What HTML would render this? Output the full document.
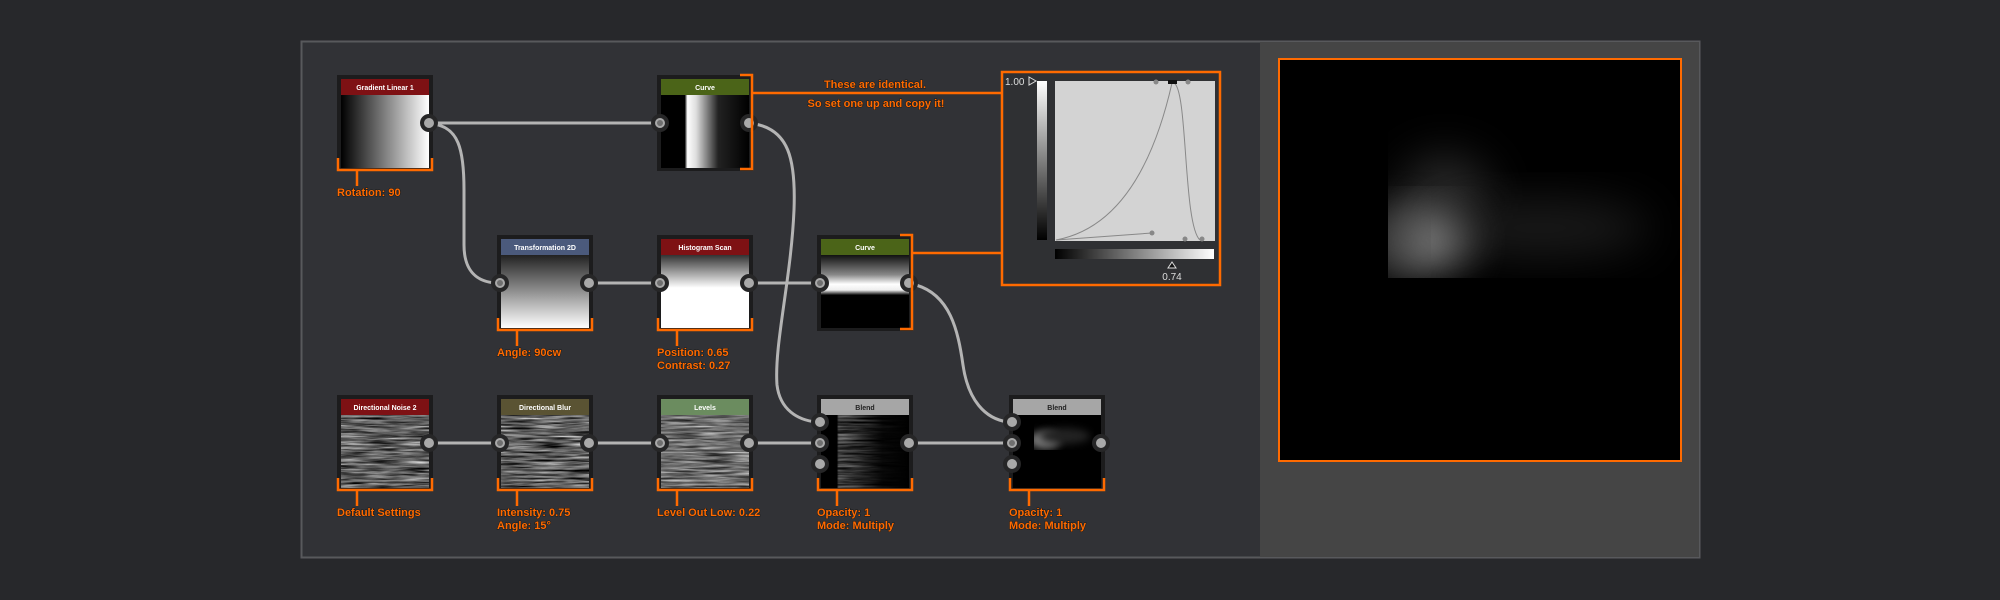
<!DOCTYPE html>
<html><head><meta charset="utf-8"><style>
html,body{margin:0;padding:0;background:#27282b;width:2000px;height:600px;overflow:hidden}
svg{display:block}
filter{color-interpolation-filters:sRGB}
.lb{font-family:"Liberation Sans",sans-serif;font-weight:bold;font-size:11px;fill:#ff6a00}
.hd{font-family:"Liberation Sans",sans-serif;font-weight:bold;font-size:7px;fill:#fff;text-anchor:middle}
</style></head><body>
<svg width="2000" height="600" viewBox="0 0 2000 600" xmlns="http://www.w3.org/2000/svg">
<defs>
<filter id="nz" x="0" y="0" width="100%" height="100%" color-interpolation-filters="sRGB">
<feTurbulence type="fractalNoise" baseFrequency="0.03 0.5" numOctaves="3" seed="4"/>
<feColorMatrix type="matrix" values="0.33 0.33 0.33 0 0  0.33 0.33 0.33 0 0  0.33 0.33 0.33 0 0  0 0 0 0 1"/>
<feComponentTransfer><feFuncR type="linear" slope="2.0" intercept="-0.62"/><feFuncG type="linear" slope="2.0" intercept="-0.62"/><feFuncB type="linear" slope="2.0" intercept="-0.62"/></feComponentTransfer>
</filter>
<filter id="bl" x="-50%" y="-50%" width="200%" height="200%" color-interpolation-filters="sRGB"><feGaussianBlur stdDeviation="22"/></filter>
<filter id="bl2" x="-50%" y="-50%" width="200%" height="200%" color-interpolation-filters="sRGB"><feGaussianBlur stdDeviation="4"/></filter>
<linearGradient id="gH" x1="0" x2="1"><stop offset="0" stop-color="#000"/><stop offset="1" stop-color="#fff"/></linearGradient>
<linearGradient id="gV" x1="0" x2="0" y1="0" y2="1"><stop offset="0" stop-color="#222"/><stop offset="1" stop-color="#fff"/></linearGradient>
<linearGradient id="gVr" x1="0" x2="0" y1="0" y2="1"><stop offset="0" stop-color="#fff"/><stop offset="1" stop-color="#000"/></linearGradient>
<linearGradient id="gHist" x1="0" x2="0" y1="0" y2="1"><stop offset="0" stop-color="#333"/><stop offset="0.45" stop-color="#fff"/><stop offset="1" stop-color="#fff"/></linearGradient>
<linearGradient id="gC1" x1="0" x2="1"><stop offset="0" stop-color="#000"/><stop offset="0.27" stop-color="#000"/><stop offset="0.3" stop-color="#fff"/><stop offset="0.4" stop-color="#ddd"/><stop offset="0.65" stop-color="#222"/><stop offset="1" stop-color="#000"/></linearGradient>
<linearGradient id="gC2" x1="0" x2="0" y1="0" y2="1"><stop offset="0" stop-color="#111"/><stop offset="0.27" stop-color="#888"/><stop offset="0.4" stop-color="#fff"/><stop offset="0.48" stop-color="#eee"/><stop offset="0.55" stop-color="#000"/><stop offset="1" stop-color="#000"/></linearGradient>
<linearGradient id="gB1" x1="0" x2="1"><stop offset="0" stop-color="#000" stop-opacity="1"/><stop offset="0.18" stop-color="#000" stop-opacity="1"/><stop offset="0.2" stop-color="#000" stop-opacity="0.35"/><stop offset="0.4" stop-color="#000" stop-opacity="0.55"/><stop offset="0.7" stop-color="#000" stop-opacity="0.92"/><stop offset="1" stop-color="#000" stop-opacity="1"/></linearGradient>
<clipPath id="pc"><rect x="1388" y="70" width="300" height="208"/></clipPath>
<clipPath id="pc2"><rect x="1034" y="420" width="60" height="30"/></clipPath>
</defs>

<rect x="301.5" y="41.5" width="1398" height="516" fill="#313236" stroke="#58595c" stroke-width="2"/>
<rect x="1260" y="42" width="439" height="515" fill="#454545"/>

<g fill="none" stroke="#b4b4b4" stroke-width="3">
<path d="M428,123 L660,123"/>
<path d="M434,124 C458,128 464,148 464,190 L464,245 C464,272 478,282 496,283"/>
<path d="M589,283 L660,283"/>
<path d="M749,283 L820,283"/>
<path d="M755,124 C788,130 796,158 794,210 C791,280 774,345 777,385 C780,410 798,420 816,422"/>
<path d="M916,285 C950,295 958,330 963,365 C968,400 985,419 1008,422"/>
<path d="M428,443 L500,443"/>
<path d="M589,443 L660,443"/>
<path d="M749,443 L820,443"/>
<path d="M909,443 L1012,443"/>
</g>

<rect x="337" y="75" width="96" height="96" fill="#1c1c1d"/>
<rect x="341" y="95" width="88" height="73" fill="url(#gH)"/>
<rect x="341" y="79" width="88" height="16" fill="#7e1114"/>
<text class="hd" x="385" y="90">Gradient Linear 1</text>
<rect x="657" y="75" width="96" height="96" fill="#1c1c1d"/>
<rect x="661" y="95" width="88" height="73" fill="url(#gC1)"/>
<rect x="661" y="79" width="88" height="16" fill="#4b6418"/>
<text class="hd" x="705" y="90">Curve</text>
<rect x="497" y="235" width="96" height="96" fill="#1c1c1d"/>
<rect x="501" y="255" width="88" height="73" fill="url(#gV)"/>
<rect x="501" y="239" width="88" height="16" fill="#4b5a7c"/>
<text class="hd" x="545" y="250">Transformation 2D</text>
<rect x="657" y="235" width="96" height="96" fill="#1c1c1d"/>
<rect x="661" y="255" width="88" height="73" fill="url(#gHist)"/>
<rect x="661" y="239" width="88" height="16" fill="#7e1114"/>
<text class="hd" x="705" y="250">Histogram Scan</text>
<rect x="817" y="235" width="96" height="96" fill="#1c1c1d"/>
<rect x="821" y="255" width="88" height="73" fill="url(#gC2)"/>
<rect x="821" y="239" width="88" height="16" fill="#4b6418"/>
<text class="hd" x="865" y="250">Curve</text>
<rect x="337" y="395" width="96" height="96" fill="#1c1c1d"/>
<rect x="341" y="415" width="88" height="73" fill="#777" filter="url(#nz)"/>
<rect x="341" y="399" width="88" height="16" fill="#7e1114"/>
<text class="hd" x="385" y="410">Directional Noise 2</text>
<rect x="497" y="395" width="96" height="96" fill="#1c1c1d"/>
<rect x="501" y="415" width="88" height="73" fill="#777" filter="url(#nz)"/>
<rect x="501" y="399" width="88" height="16" fill="#5a5333"/>
<text class="hd" x="545" y="410">Directional Blur</text>
<rect x="657" y="395" width="96" height="96" fill="#1c1c1d"/>
<rect x="661" y="415" width="88" height="73" fill="#777" filter="url(#nz)"/>
<rect x="661" y="415" width="88" height="73" fill="#aaa" opacity="0.2"/>
<rect x="661" y="399" width="88" height="16" fill="#6b8c5f"/>
<text class="hd" x="705" y="410">Levels</text>
<rect x="817" y="395" width="96" height="96" fill="#1c1c1d"/>
<rect x="821" y="415" width="88" height="73" fill="#555" filter="url(#nz)"/>
<rect x="821" y="415" width="88" height="73" fill="url(#gB1)"/>
<rect x="821" y="399" width="88" height="16" fill="#a6a6a6"/>
<text class="hd" x="865" y="410" style="fill:#222">Blend</text>
<rect x="1009" y="395" width="96" height="96" fill="#1c1c1d"/>
<rect x="1013" y="415" width="88" height="73" fill="#000"/>
<g clip-path="url(#pc2)"><ellipse cx="1045" cy="440" rx="16" ry="9" fill="#777" filter="url(#bl2)"/><ellipse cx="1065" cy="436" rx="25" ry="8" fill="#222" filter="url(#bl2)"/></g>
<rect x="1013" y="399" width="88" height="16" fill="#a6a6a6"/>
<text class="hd" x="1057" y="410" style="fill:#222">Blend</text>

<g fill="#a9a9a9" stroke="#262627" stroke-width="4">
<circle cx="429" cy="123" r="7"/>
<circle cx="660" cy="123" r="7"/><circle cx="749" cy="123" r="7"/>
<circle cx="500" cy="283" r="7"/><circle cx="589" cy="283" r="7"/>
<circle cx="660" cy="283" r="7"/><circle cx="749" cy="283" r="7"/>
<circle cx="820" cy="283" r="7"/><circle cx="909" cy="283" r="7"/>
<circle cx="429" cy="443" r="7"/>
<circle cx="500" cy="443" r="7"/><circle cx="589" cy="443" r="7"/>
<circle cx="660" cy="443" r="7"/><circle cx="749" cy="443" r="7"/>
<circle cx="820" cy="422" r="7"/><circle cx="820" cy="443" r="7"/><circle cx="820" cy="464" r="7"/><circle cx="909" cy="443" r="7"/>
<circle cx="1012" cy="422" r="7"/><circle cx="1012" cy="443" r="7"/><circle cx="1012" cy="464" r="7"/><circle cx="1101" cy="443" r="7"/>
</g>
<g fill="#6f6f6f">
<circle cx="660" cy="123" r="3"/><circle cx="500" cy="283" r="3"/><circle cx="660" cy="283" r="3"/><circle cx="820" cy="283" r="3"/>
<circle cx="500" cy="443" r="3"/><circle cx="660" cy="443" r="3"/><circle cx="820" cy="443" r="3"/><circle cx="1012" cy="443" r="3"/>
</g>

<g fill="none" stroke="#ff6a00" stroke-width="2.5">
<path d="M338,158 L338,170 L432,170 L432,158 M357,170 L357,186"/>
<path d="M498,318 L498,330 L592,330 L592,318 M517,330 L517,346"/>
<path d="M658,318 L658,330 L752,330 L752,318 M677,330 L677,346"/>
<path d="M338,478 L338,490 L432,490 L432,478 M357,490 L357,506"/>
<path d="M498,478 L498,490 L592,490 L592,478 M517,490 L517,506"/>
<path d="M658,478 L658,490 L752,490 L752,478 M677,490 L677,506"/>
<path d="M818,478 L818,490 L912,490 L912,478 M837,490 L837,506"/>
<path d="M1010,478 L1010,490 L1104,490 L1104,478 M1029,490 L1029,506"/>
<path d="M740,75 L752,75 L752,169 L740,169 M752,93 L1002,93"/>
<path d="M900,235 L912,235 L912,329 L900,329 M912,253 L1002,253"/>
</g>

<g class="lb" style="paint-order:stroke;stroke:#1a1a1a;stroke-width:1px">
<text x="337" y="196">Rotation: 90</text>
<text x="497" y="356">Angle: 90cw</text>
<text x="657" y="356">Position: 0.65</text>
<text x="657" y="369">Contrast: 0.27</text>
<text x="337" y="516">Default Settings</text>
<text x="497" y="516">Intensity: 0.75</text>
<text x="497" y="529">Angle: 15°</text>
<text x="657" y="516">Level Out Low: 0.22</text>
<text x="817" y="516">Opacity: 1</text>
<text x="817" y="529">Mode: Multiply</text>
<text x="1009" y="516">Opacity: 1</text>
<text x="1009" y="529">Mode: Multiply</text>
<text x="875" y="88" text-anchor="middle">These are identical.</text>
<text x="876" y="107" text-anchor="middle">So set one up and copy it!</text>
</g>

<rect x="1002" y="72" width="218" height="213" fill="#2f3033" stroke="#ff6a00" stroke-width="2.5"/>
<rect x="1037" y="81" width="10" height="159" fill="url(#gVr)"/>
<rect x="1055" y="81" width="160" height="160" fill="#d3d3d3"/>
<rect x="1055" y="249" width="159" height="10" fill="url(#gH)"/>
<text x="1005" y="85" style="font-family:'Liberation Sans',sans-serif;font-size:10px;fill:#ddd">1.00</text>
<path d="M1029,77 L1036,81 L1029,85 Z" fill="none" stroke="#ddd" stroke-width="1"/>
<path d="M1172,262 L1168,268 L1176,268 Z" fill="#111" stroke="#ddd" stroke-width="1"/>
<text x="1172" y="280" text-anchor="middle" style="font-family:'Liberation Sans',sans-serif;font-size:10px;fill:#ddd">0.74</text>
<g fill="none" stroke="#888" stroke-width="1">
<path d="M1056,240 C1110,230 1150,180 1172,83"/>
<path d="M1174,83 C1188,90 1183,225 1200,240"/>
<path d="M1056,240 L1152,233"/>
</g>
<g fill="#888">
<circle cx="1152" cy="233" r="2.5"/><circle cx="1156" cy="82" r="2.5"/><circle cx="1188" cy="82" r="2.5"/>
<circle cx="1185" cy="239" r="2.5"/><circle cx="1202" cy="239" r="2.5"/>
</g>
<rect x="1168" y="80" width="9" height="4" fill="#111"/>

<rect x="1279" y="59" width="402" height="402" fill="#000" stroke="#ff6a00" stroke-width="2"/>
<g clip-path="url(#pc)">
<ellipse cx="1445" cy="200" rx="45" ry="45" fill="#282828" filter="url(#bl)"/>
<ellipse cx="1540" cy="228" rx="110" ry="28" fill="#1a1a1a" filter="url(#bl)"/>
<ellipse cx="1425" cy="242" rx="40" ry="28" fill="#8a8a8a" filter="url(#bl)"/>
<ellipse cx="1395" cy="238" rx="18" ry="35" fill="#4a4a4a" filter="url(#bl)"/>
</g>
</svg>
</body></html>
